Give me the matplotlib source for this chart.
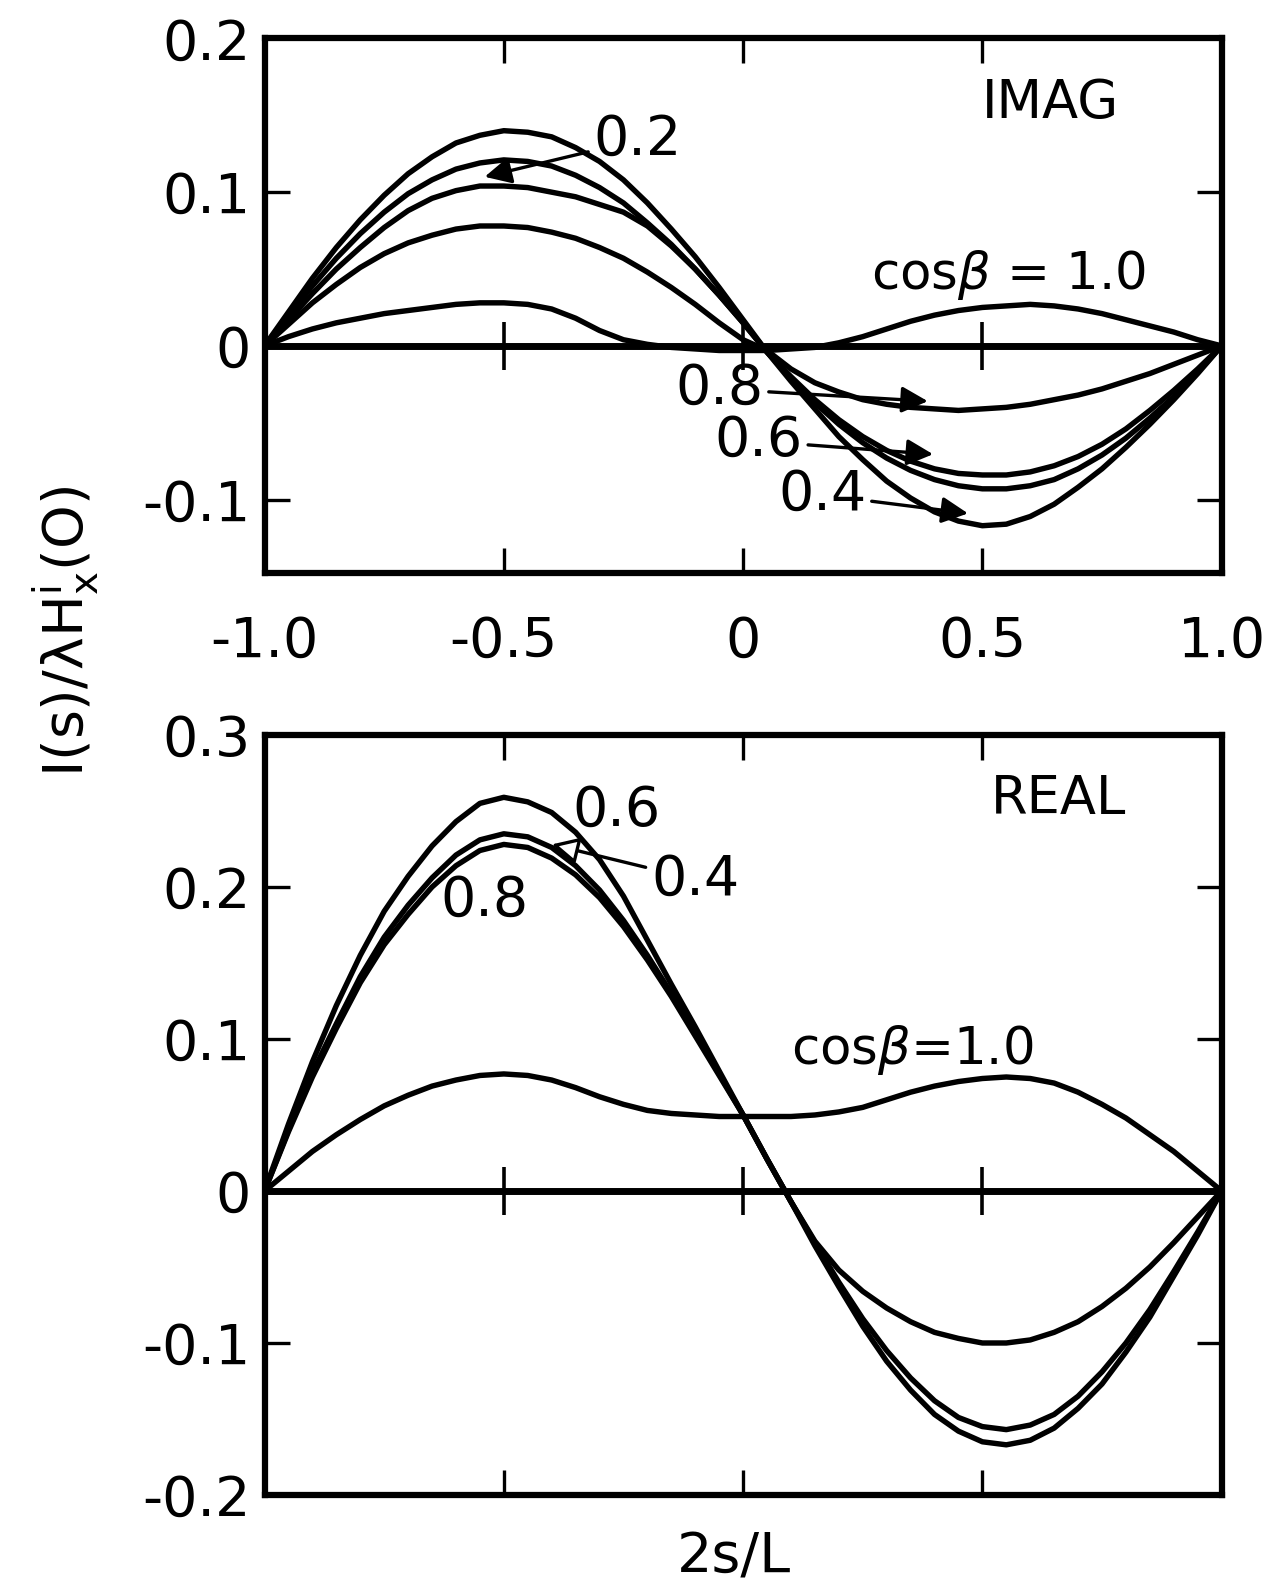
import numpy as np
import matplotlib
matplotlib.use('Agg')
import matplotlib.pyplot as plt

plt.rcParams['font.family'] = ['DejaVu Sans']
plt.rcParams['mathtext.fontset'] = 'dejavusans'

# sample positions along 2s/L, read every 0.05
s = np.linspace(-1.0, 1.0, 41)

# IMAG part, one list per cos(beta)
imag_02 = [0, .020, .039, .057, .073, .087, .099, .108, .115, .119, .121, .120, .117, .111, .103, .093, .080, .066, .050, .033, .015,
           -.004, -.021, -.037, -.051, -.063, -.073, -.081, -.087, -.091, -.093, -.093, -.091, -.087, -.080, -.071, -.060, -.047, -.033, -.017, 0]
imag_04 = [0, .022, .044, .064, .082, .098, .112, .123, .132, .137, .140, .139, .136, .129, .120, .108, .093, .076, .058, .038, .017,
           -.004, -.023, -.041, -.059, -.074, -.088, -.099, -.108, -.114, -.117, -.116, -.111, -.103, -.092, -.080, -.066, -.051, -.035, -.018, 0]
imag_06 = [0, .017, .034, .050, .064, .077, .088, .096, .101, .104, .104, .103, .100, .097, .092, .087, .078, .065, .050, .033, .015,
           -.004, -.020, -.035, -.048, -.059, -.068, -.075, -.080, -.083, -.084, -.084, -.082, -.078, -.072, -.064, -.054, -.042, -.029, -.015, 0]
imag_08 = [0, .014, .028, .040, .051, .060, .067, .072, .076, .078, .078, .077, .074, .070, .064, .057, .048, .038, .027, .015, .004,
           -.003, -.015, -.024, -.030, -.035, -.038, -.040, -.041, -.042, -.041, -.040, -.038, -.035, -.032, -.028, -.023, -.018, -.012, -.006, 0]
imag_10 = [0, .006, .011, .015, .018, .021, .023, .025, .027, .028, .028, .027, .024, .018, .010, .004, .001, -.001, -.002, -.003, -.003,
           -.003, -.002, -.001, .002, .006, .011, .016, .020, .023, .025, .026, .027, .026, .024, .021, .017, .013, .009, .004, 0]

# REAL part
real_04 = [0, .040, .078, .110, .141, .167, .188, .206, .221, .231, .235, .233, .226, .214, .198, .178, .155, .130, .104, .077, .050,
           .021, -.007, -.034, -.060, -.084, -.105, -.123, -.138, -.149, -.155, -.157, -.154, -.147, -.135, -.119, -.100, -.078, -.053, -.027, 0]
real_06 = [0, .044, .085, .122, .155, .184, .207, .227, .243, .255, .259, .256, .249, .236, .218, .194, .165, .136, .108, .079, .050,
           .021, -.007, -.036, -.063, -.089, -.112, -.131, -.147, -.158, -.165, -.167, -.164, -.156, -.143, -.127, -.106, -.083, -.056, -.029, 0]
real_08 = [0, .039, .075, .107, .137, .162, .182, .200, .214, .224, .228, .226, .219, .208, .193, .174, .152, .128, .102, .076, .050,
           .021, -.007, -.033, -.052, -.066, -.077, -.086, -.093, -.097, -.100, -.100, -.098, -.093, -.086, -.076, -.064, -.050, -.034, -.017, 0]
real_10 = [0, .013, .026, .037, .047, .056, .063, .069, .073, .076, .077, .076, .073, .068, .062, .057, .053, .051, .050, .049, .049,
           .049, .049, .050, .052, .055, .060, .065, .069, .072, .074, .075, .074, .071, .065, .057, .048, .037, .026, .013, 0]

xticks = [-1.0, -0.5, 0, 0.5, 1.0]
xticklabels = ['-1.0', '-0.5', '0', '0.5', '1.0']
imag_yticks = [0.2, 0.1, 0, -0.1]
imag_yticklabels = ['0.2', '0.1', '0', '-0.1']
real_yticks = [0.3, 0.2, 0.1, 0, -0.1, -0.2]
real_yticklabels = ['0.3', '0.2', '0.1', '0', '-0.1', '-0.2']

FS = 40
LW = 3.9


def style(ax, yticks, ylabels, ylim, show_x):
    ax.set_xlim(-1.0, 1.0)
    ax.set_ylim(*ylim)
    ax.set_xticks(xticks)
    ax.set_yticks(yticks)
    ax.set_yticklabels(ylabels, fontsize=FS)
    if show_x:
        ax.set_xticklabels(xticklabels, fontsize=FS)
    else:
        ax.set_xticklabels([])
    ax.tick_params(direction='in', length=18, width=2.4, top=True, right=True)
    ax.tick_params(axis='x', pad=30)
    ax.tick_params(axis='y', pad=10)
    for sp in ax.spines.values():
        sp.set_linewidth(4.5)
    ax.axhline(0, color='black', lw=5)
    # tick crosses on the zero line
    ax.plot(xticks[1:-1], [0, 0, 0], ls='none', marker='|', ms=34, mew=2.6, color='black')


fig = plt.figure(figsize=(12.67, 15.83), dpi=100)
ax1 = fig.add_axes([0.2088, 0.6378, 0.7554, 0.3379])
ax2 = fig.add_axes([0.2088, 0.0556, 0.7554, 0.4801])

# --- IMAG
for y in [imag_02, imag_04, imag_06, imag_08, imag_10]:
    ax1.plot(s, y, color='black', lw=LW, solid_capstyle='round', solid_joinstyle='round')
style(ax1, imag_yticks, imag_yticklabels, (-0.148, 0.2), True)

ax1.text(0.643, 0.158, 'IMAG', fontsize=38, ha='center', va='center')
ax1.text(0.555, 0.046, r'cos$\beta$ = 1.0', fontsize=37, ha='center', va='center')
arrow = dict(arrowstyle='-|>', color='black', lw=2.4, mutation_scale=40, shrinkA=2, shrinkB=0)
ax1.annotate('0.2', xy=(-0.54, 0.110), xytext=(-0.22, 0.134), fontsize=FS,
             ha='center', va='center', arrowprops=arrow)
ax1.annotate('0.8', xy=(0.386, -0.036), xytext=(-0.05, -0.028), fontsize=FS,
             ha='center', va='center', arrowprops=arrow)
ax1.annotate('0.6', xy=(0.397, -0.0705), xytext=(0.032, -0.062), fontsize=FS,
             ha='center', va='center', arrowprops=arrow)
ax1.annotate('0.4', xy=(0.47, -0.109), xytext=(0.165, -0.097), fontsize=FS,
             ha='center', va='center', arrowprops=arrow)

# --- REAL
for y in [real_04, real_06, real_08, real_10]:
    ax2.plot(s, y, color='black', lw=LW, solid_capstyle='round', solid_joinstyle='round')
style(ax2, real_yticks, real_yticklabels, (-0.2, 0.3), False)

ax2.text(0.66, 0.258, 'REAL', fontsize=38, ha='center', va='center')
ax2.text(-0.264, 0.25, '0.6', fontsize=FS, ha='center', va='center')
ax2.text(-0.54, 0.191, '0.8', fontsize=FS, ha='center', va='center')
ax2.text(0.354, 0.093, r'cos$\beta$=1.0', fontsize=37, ha='center', va='center')
open_arrow = dict(arrowstyle='-|>', color='black', fc='white', lw=2.4, mutation_scale=40,
                  shrinkA=2, shrinkB=0)
ax2.annotate('0.4', xy=(-0.40, 0.228), xytext=(-0.10, 0.205), fontsize=FS,
             ha='center', va='center', arrowprops=open_arrow)

fig.text(0.052, 0.601, r'$\mathrm{I(s)/\lambda H_x^i(O)}$', fontsize=FS,
         rotation=90, ha='center', va='center')
fig.text(0.579, 0.016, '2s/L', fontsize=FS, ha='center', va='center')

fig.savefig('out.png', dpi=100, facecolor='white')
